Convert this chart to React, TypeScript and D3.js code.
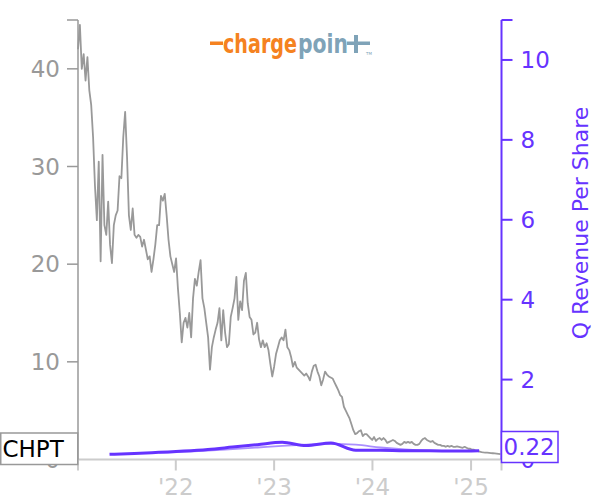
import React from "react";
import * as d3 from "d3";

// ---- Data ----
const priceStart = "2021-01-03";
// weekly closes of CHPT (USD), one value per week from priceStart
const weeklyClose = [
  42.0, 44.5, 40.0, 41.5, 38.8, 41.2, 37.8, 36.3, 33.0, 28.0,
  24.5, 30.5, 20.3, 31.2, 24.0, 23.0, 26.4, 22.0, 20.1, 24.0,
  25.0, 25.5, 29.0, 28.8, 33.0, 35.6, 31.0, 25.0, 23.5, 25.7,
  23.0, 22.7, 23.0, 22.8, 21.8, 22.5, 21.5, 20.5, 20.8, 19.2,
  20.5, 22.0, 24.0, 24.0, 27.0, 26.5, 27.2, 25.0, 22.5, 20.8,
  20.0, 19.2, 20.6, 17.5, 15.0, 12.0, 14.0, 14.5, 13.5, 15.0,
  12.5, 16.5, 18.5, 17.8, 19.2, 20.4, 16.5, 15.5, 14.0, 12.5,
  9.2, 11.5, 12.5, 13.3, 14.0, 15.5, 12.2, 15.3, 13.0, 11.5,
  11.8, 14.6, 15.5, 16.5, 18.7, 14.3, 16.2, 15.3, 18.3, 19.1,
  16.0, 14.6, 14.3, 12.8, 13.0, 14.0, 12.3, 11.5, 12.2, 11.5,
  11.9, 11.2, 9.8, 8.5, 9.5, 10.8, 11.5, 12.2, 12.5, 12.2,
  13.3, 11.5, 11.2, 10.5, 9.5, 10.0, 9.4, 9.2, 9.0, 8.8,
  8.6, 8.8, 8.5, 8.1, 9.0, 9.6, 9.7, 9.0, 8.5, 7.6,
  8.2, 9.0, 8.7, 8.5, 8.4, 8.3, 7.9, 7.5, 7.1, 6.6,
  6.4, 5.4, 5.0, 4.6, 4.2, 3.6, 3.0, 2.6, 2.7, 2.9,
  3.0, 2.4, 2.6, 2.6, 2.4, 2.2, 2.0, 2.3, 1.9, 2.1,
  2.2, 2.0, 2.2, 2.0, 1.7, 1.8, 1.9, 2.0, 1.9, 1.7,
  1.6, 1.5, 1.6, 1.8, 1.7, 1.8, 1.7, 1.8, 1.6, 1.5,
  1.5, 1.6, 1.9, 2.1, 2.2, 2.0, 1.9, 1.8, 1.9, 1.7,
  1.6, 1.5, 1.5, 1.4, 1.4, 1.3, 1.4, 1.3, 1.4, 1.3,
  1.3, 1.35, 1.3, 1.25, 1.2, 1.3, 1.2, 1.1, 1.1, 1.0,
  1.0, 0.9, 0.85, 0.8, 0.75, 0.72, 0.7, 0.7, 0.68, 0.66,
  0.64, 0.62, 0.6, 0.58, 0.56,
];

const revenueQuarters = [
  "2021-04-30", "2021-07-31", "2021-10-31", "2022-01-31",
  "2022-04-30", "2022-07-31", "2022-10-31", "2023-01-31",
  "2023-04-30", "2023-07-31", "2023-10-31", "2024-01-31",
  "2024-04-30", "2024-07-31", "2024-10-31", "2025-01-31",
];
const revenuePerShare = [
  0.13, 0.15, 0.18, 0.21, 0.25, 0.31, 0.37, 0.43,
  0.35, 0.41, 0.23, 0.23, 0.22, 0.22, 0.21, 0.22,
];
const smoothQuarters = [
  "2021-10-31", "2022-01-31", "2022-04-30", "2022-07-31", "2022-10-31",
  "2023-01-31", "2023-04-30", "2023-07-31", "2023-10-31", "2024-01-31",
  "2024-04-30", "2024-07-31", "2024-10-31", "2025-01-31",
];
const smoothRevenue = [
  0.17, 0.19, 0.22, 0.26, 0.30, 0.34, 0.37, 0.39, 0.37, 0.30,
  0.25, 0.22, 0.21, 0.21,
];

const ticker = "CHPT";
const lastRevenueLabel = "0.22";
const rightAxisTitle = "Q Revenue Per Share";
const leftTicks = [0, 10, 20, 30, 40];
const rightTicks = [0, 2, 4, 6, 8, 10];
const xTickDates = ["2022-01-01", "2023-01-01", "2024-01-01", "2025-01-01"];
const xTickLabels = ["'22", "'23", "'24", "'25"];
const xDomain = ["2021-01-03", "2025-04-24"];

// ---- Styles ----
const PURPLE = "#6633ff";
const GRAY = "#999999";
const LIGHT = "#cccccc";
const FONT = "DejaVu Sans, sans-serif";

export default function App() {
  const W = 600, H = 500;
  const left = 78, right = 501.5, top = 20, bottom = 459.5;
  const parse = d3.timeParse("%Y-%m-%d");

  const x = d3.scaleTime().domain(xDomain.map((d) => parse(d) as Date)).range([left, right]);
  const yL = d3.scaleLinear().domain([0, 45]).range([bottom, top]);
  const yR = d3.scaleLinear().domain([0, 11]).range([bottom, top]);

  const start = parse(priceStart) as Date;
  const priceData = weeklyClose.map((v, i) => ({ d: d3.timeDay.offset(start, i * 7), v }));
  const revData = revenueQuarters.map((d, i) => ({ d: parse(d) as Date, v: revenuePerShare[i] }));
  const smoothData = smoothQuarters.map((d, i) => ({ d: parse(d) as Date, v: smoothRevenue[i] }));

  const priceLine = d3.line<{ d: Date; v: number }>().x((p) => x(p.d)).y((p) => yL(p.v));
  const revLine = d3.line<{ d: Date; v: number }>().x((p) => x(p.d)).y((p) => yR(p.v)).curve(d3.curveMonotoneX);

  const tick = 11;
  const fs = 23;

  return (
    <svg width={W} height={H} style={{ position: "absolute", left: 0, top: 0, background: "#fff" }}
      fontFamily={FONT}>
      {/* logo */}
      <g>
        <rect x={210} y={41.5} width={13} height={3.5} fill="#f58220" />
        <text x={223} y={53} fontSize={27} fontWeight="bold" fill="#f58220"
          textLength={74} lengthAdjust="spacingAndGlyphs">charge</text>
        <text x={298} y={53} fontSize={27} fontWeight="bold" fill="#7fa3b8"
          textLength={50} lengthAdjust="spacingAndGlyphs">poin</text>
        <rect x={347} y={41.5} width={23} height={3.5} fill="#7fa3b8" />
        <rect x={354} y={35} width={4} height={18} fill="#7fa3b8" />
        <text x={366} y={55} fontSize={4} fill="#7fa3b8">TM</text>
      </g>

      {/* price line */}
      <path d={priceLine(priceData) || ""} fill="none" stroke={GRAY} strokeWidth={1.8} strokeLinejoin="round" />

      {/* revenue lines */}
      <path d={revLine(smoothData) || ""} fill="none" stroke={PURPLE} strokeOpacity={0.55} strokeWidth={1.8} />
      <path d={revLine(revData) || ""} fill="none" stroke={PURPLE} strokeWidth={3} strokeLinejoin="round" />

      {/* x axis */}
      <g>
        <line x1={left} x2={right} y1={bottom} y2={bottom} stroke={LIGHT} strokeWidth={2} />
        <line x1={left} x2={left} y1={bottom} y2={bottom + tick} stroke={LIGHT} strokeWidth={2} />
        <line x1={right} x2={right} y1={bottom} y2={bottom + tick} stroke={LIGHT} strokeWidth={2} />
        {xTickDates.map((d, i) => {
          const xx = x(parse(d) as Date);
          return (
            <g key={d}>
              <line x1={xx} x2={xx} y1={bottom} y2={bottom + tick} stroke={LIGHT} strokeWidth={2} />
              <text x={xx} y={495} fontSize={fs} fill={LIGHT} textAnchor="middle">{xTickLabels[i]}</text>
            </g>
          );
        })}
      </g>

      {/* left axis */}
      <g>
        <line x1={left} x2={left} y1={top} y2={bottom} stroke={GRAY} strokeWidth={1.5} />
        <line x1={left - tick} x2={left} y1={top} y2={top} stroke={GRAY} strokeWidth={1.5} />
        {leftTicks.map((t) => (
          <g key={t}>
            <line x1={left - tick} x2={left} y1={yL(t)} y2={yL(t)} stroke={GRAY} strokeWidth={1.5} />
            <text x={left - tick - 7} y={yL(t)} dy="0.36em" fontSize={fs} fill={GRAY} textAnchor="end">{t}</text>
          </g>
        ))}
      </g>

      {/* right axis */}
      <g>
        <line x1={right} x2={right} y1={top} y2={bottom} stroke={PURPLE} strokeWidth={2} />
        <line x1={right} x2={right + tick} y1={top} y2={top} stroke={PURPLE} strokeWidth={2} />
        {rightTicks.map((t) => (
          <g key={t}>
            <line x1={right} x2={right + tick} y1={yR(t)} y2={yR(t)} stroke={PURPLE} strokeWidth={2} />
            <text x={right + tick + 8} y={yR(t)} dy="0.36em" fontSize={fs} fill={PURPLE}>{t}</text>
          </g>
        ))}
        <text transform="translate(588,223) rotate(-90)" fontSize={22} fill={PURPLE} textAnchor="middle">
          {rightAxisTitle}
        </text>
      </g>

      {/* ticker label box */}
      <g>
        <rect x={0.75} y={433} width={77} height={31.5} fill="#fff" stroke={GRAY} strokeWidth={1.5} />
        <text x={2.5} y={457} fontSize={fs} fill="#000">{ticker}</text>
      </g>

      {/* last value label box */}
      <g>
        <rect x={right} y={431.5} width={56.5} height={31} fill="#fff" stroke={PURPLE} strokeWidth={1.5} />
        <text x={503.5} y={455} fontSize={fs} fill={PURPLE}>{lastRevenueLabel}</text>
      </g>
    </svg>
  );
}
